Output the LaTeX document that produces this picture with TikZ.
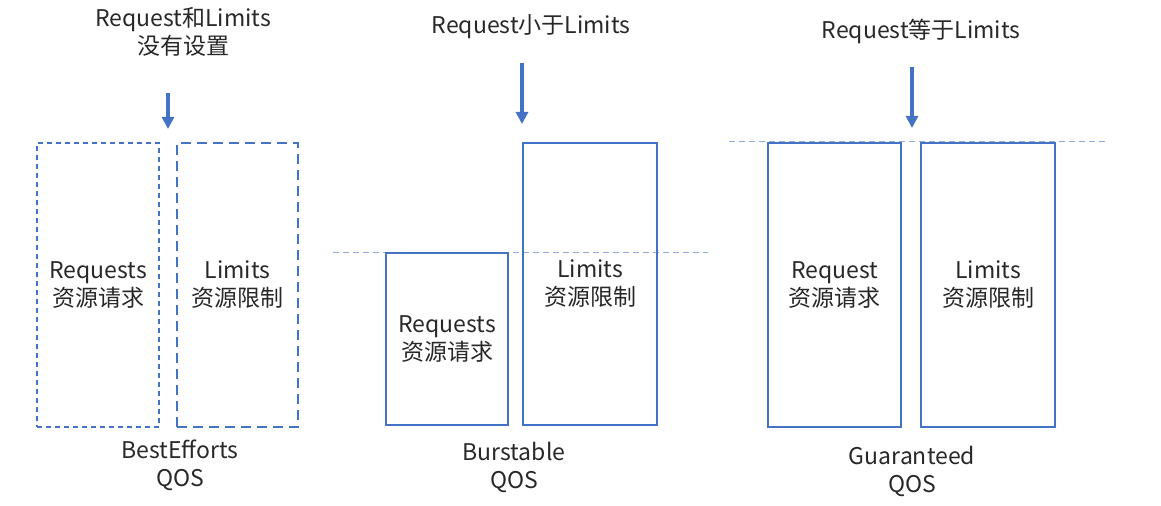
\documentclass[tikz,border=0pt]{standalone}
\usepackage{fontspec}
\setmainfont{Noto Sans CJK SC}
\usetikzlibrary{arrows.meta,positioning}
\definecolor{boxblue}{RGB}{68,114,196}
\definecolor{lineblue}{RGB}{143,170,220}
\definecolor{ink}{RGB}{40,40,40}

\begin{document}
\begin{tikzpicture}[x=0.5pt,y=-0.5pt,
  every node/.style={font=\fontsize{11.5}{14}\selectfont,text=ink,align=center},
  b/.style={draw=boxblue,line width=0.55pt,anchor=north west,inner sep=0pt,outer sep=0pt},
  bdot/.style={b,dash pattern=on 2.5pt off 2pt},
  bdash/.style={b,dash pattern=on 5pt off 3pt},
  a/.style={-{Triangle[length=6pt,width=6pt]},line width=1.6pt,draw=boxblue},
  lvl/.style={draw=lineblue,line width=0.5pt,dash pattern=on 3pt off 2pt}]
  \useasboundingbox (0,0) rectangle (1161,506);
  % BestEfforts
  \node (t1) at (183,32) {Request和Limits\\没有设置};
  \node[bdot,minimum width=61pt,minimum height=142pt] (req1) at (37,143) {Requests\\资源请求};
  \node[bdash,minimum width=60.5pt,minimum height=142pt] (lim1) at (177,143) {Limits\\资源限制};
  \node (q1) at (180,465) {BestEfforts\\QOS};
  \draw[a] (168,93) coordinate (a1) -- (168,129) coordinate (a1e);
  % Burstable
  \node (t2) at (531,27) {Request小于Limits};
  \draw[lvl] (333,253) coordinate (l2w) -- (708,253) coordinate (l2e);
  \node[b,minimum width=61pt,minimum height=86pt] (req2) at (386,253) {Requests\\资源请求};
  \node[b,minimum width=67pt,minimum height=141pt] (lim2) at (523,143) {Limits\\资源限制};
  \node (q2) at (514,467) {Burstable\\QOS};
  \draw[a] (522,63) coordinate (a2) -- (522,124) coordinate (a2e);
  % Guaranteed
  \node (t3) at (921,31) {Request等于Limits};
  \draw[lvl] (729,142) coordinate (l3w) -- (1105,142) coordinate (l3e);
  \node[b,minimum width=66.5pt,minimum height=142pt] (req3) at (768,143) {Request\\资源请求};
  \node[b,minimum width=67pt,minimum height=142pt] (lim3) at (921,143) {Limits\\资源限制};
  \node (q3) at (912,471) {Guaranteed\\QOS};
  \draw[a] (912,67) coordinate (a3) -- (912,128) coordinate (a3e);
\end{tikzpicture}
\end{document}
